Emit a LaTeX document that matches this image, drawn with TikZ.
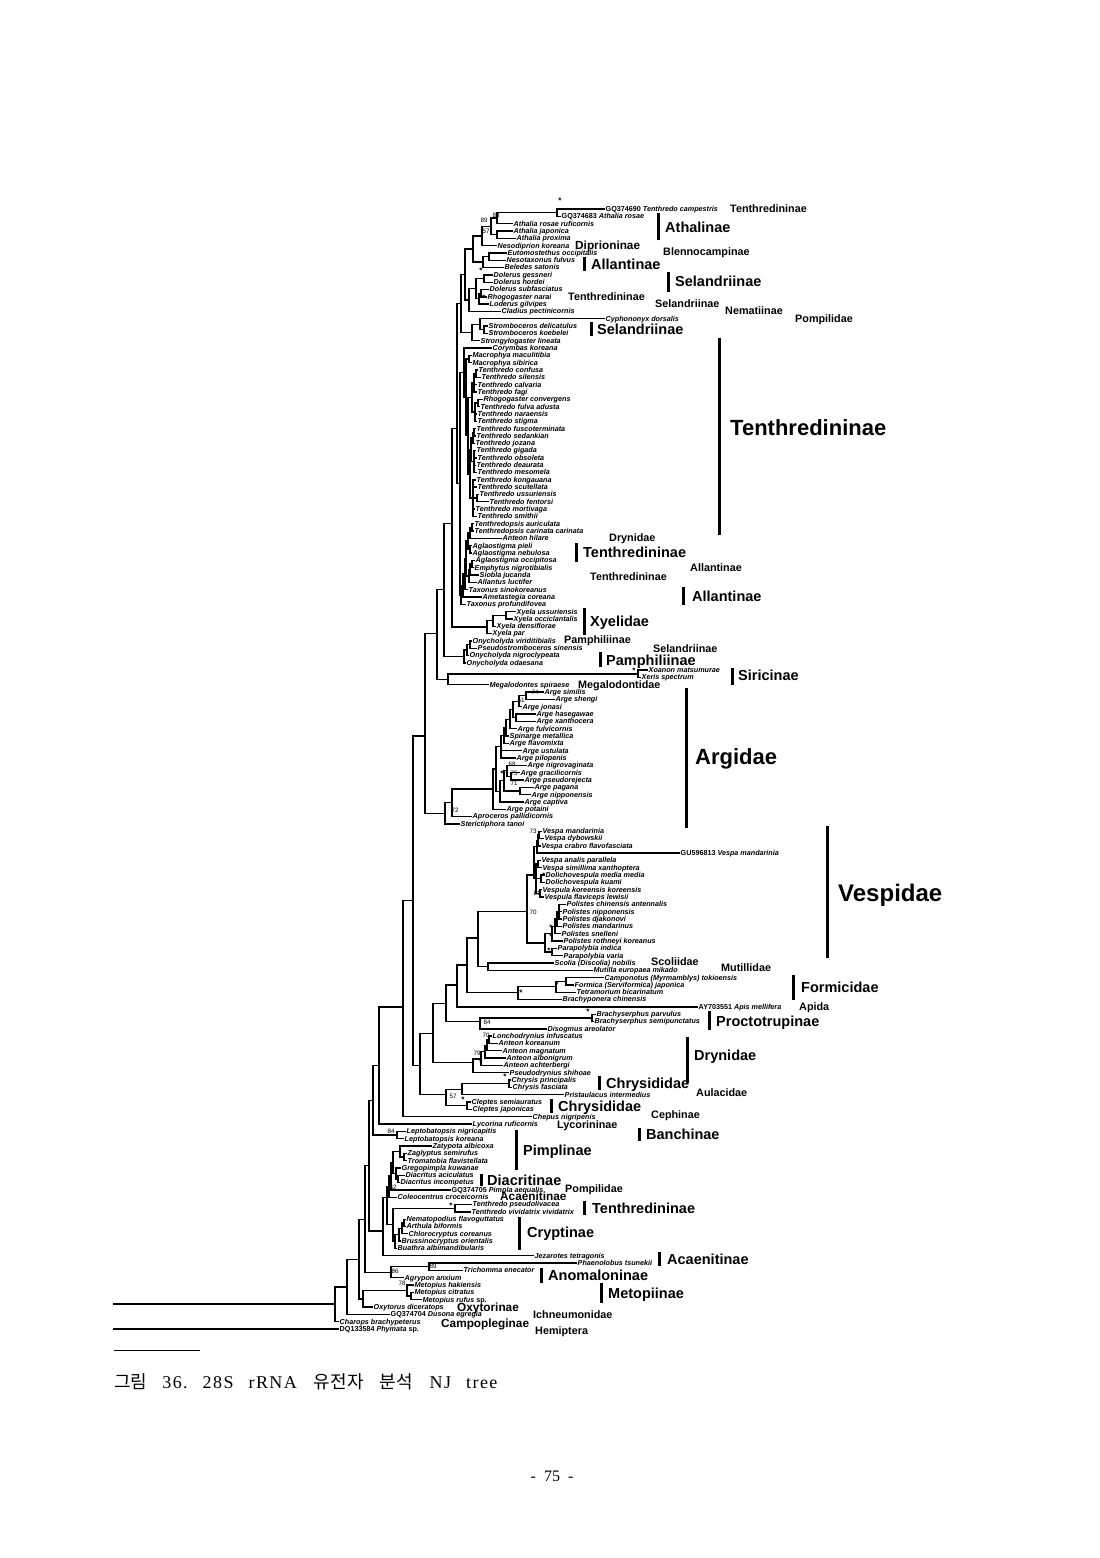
\documentclass[tikz,border=0pt]{standalone}
\usepackage{fontspec}
\setmainfont{Liberation Sans}
\newfontfamily\cjkfont{Noto Sans CJK KR}
\newfontfamily\serifl[LetterSpace=8]{Liberation Serif}
\newfontfamily\serifp{Liberation Serif}
\newcommand\yy[1]{209+7.32*(#1)}
\newcommand\leaf[3]{\coordinate (t#1) at (#2,{\yy{#1}}); \node[lf] (l#1) at (t#1) {#3};}
\newcommand\inn[3]{\coordinate (#1) at (#2,{\yy{#3}});}
\newcommand\kids[2]{\foreach \kk in {#2}{\draw[br] (#1) |- (\kk);}}
\newcommand\up[1]{{\upshape #1}}
\tikzset{
  br/.style={line width=1.35pt, line join=miter, line cap=rect},
  lf/.style={anchor=base west, inner sep=0pt, xshift=1.5pt, yshift=-2.4pt, font=\fontsize{7.2}{7}\selectfont\bfseries\itshape},
  sl/.style={anchor=base west, inner sep=0pt, yshift=-3.9pt, font=\fontsize{10.8}{11}\selectfont\bfseries},
  ml/.style={anchor=base west, inner sep=0pt, yshift=-4.2pt, font=\fontsize{11.8}{12}\selectfont\bfseries},
  bl/.style={anchor=base west, inner sep=0pt, yshift=-5.2pt, font=\fontsize{14.5}{15}\selectfont\bfseries},
  hl/.style={anchor=base west, inner sep=0pt, yshift=-7.9pt, font=\fontsize{22}{22}\selectfont\bfseries},
  vl/.style={anchor=base west, inner sep=0pt, yshift=-8.6pt, font=\fontsize{24}{24}\selectfont\bfseries},
  cbar/.style={line width=3pt},
  bs/.style={inner sep=0pt, font=\fontsize{6.3}{6}\selectfont},
  st/.style={inner sep=0pt, font=\fontsize{8}{8}\selectfont\bfseries, yshift=1.2pt}
}
\begin{document}
\begin{tikzpicture}[x=1pt,y=-1pt]
\useasboundingbox (0,0) rectangle (1100,1558);
% ---------------- leaves ----------------
\leaf{0}{604}{\up{GQ374690} Tenthredo campestris}
\leaf{1}{560}{\up{GQ374683} Athalia rosae}
\leaf{2}{512}{Athalia rosae ruficornis}
\leaf{3}{512}{Athalia japonica}
\leaf{4}{515}{Athalia proxima}
\leaf{5}{496}{Nesodiprion koreana}
\leaf{6}{506}{Eutomostethus occipitalis}
\leaf{7}{505}{Nesotaxonus fulvus}
\leaf{8}{503}{Beledes satonis}
\leaf{9}{492}{Dolerus gessneri}
\leaf{10}{492}{Dolerus hordei}
\leaf{11}{488}{Dolerus subfasciatus}
\leaf{12}{486}{Rhogogaster narai}
\leaf{13}{488}{Loderus gilvipes}
\leaf{14}{500}{Cladius pectinicornis}
\leaf{15}{604}{Cyphononyx dorsalis}
\leaf{16}{487}{Stromboceros delicatulus}
\leaf{17}{487}{Stromboceros koebelei}
\leaf{18}{479}{Strongylogaster lineata}
\leaf{19}{491}{Corymbas koreana}
\leaf{20}{471}{Macrophya maculitibia}
\leaf{21}{471}{Macrophya sibirica}
\leaf{22}{477}{Tenthredo confusa}
\leaf{23}{480}{Tenthredo silensis}
\leaf{24}{476}{Tenthredo calvaria}
\leaf{25}{476}{Tenthredo fagi}
\leaf{26}{482}{Rhogogaster convergens}
\leaf{27}{479}{Tenthredo fulva adusta}
\leaf{28}{476}{Tenthredo naraensis}
\leaf{29}{476}{Tenthredo stigma}
\leaf{30}{475}{Tenthredo fuscoterminata}
\leaf{31}{475}{Tenthredo sedankian}
\leaf{32}{474}{Tenthredo jozana}
\leaf{33}{475}{Tenthredo gigada}
\leaf{34}{476}{Tenthredo obsoleta}
\leaf{35}{475}{Tenthredo deaurata}
\leaf{36}{476}{Tenthredo mesomela}
\leaf{37}{475}{Tenthredo kongauana}
\leaf{38}{476}{Tenthredo scutellata}
\leaf{39}{478}{Tenthredo ussuriensis}
\leaf{40}{488}{Tenthredo fentorsi}
\leaf{41}{474}{Tenthredo mortivaga}
\leaf{42}{476}{Tenthredo smithii}
\leaf{43}{473}{Tenthredopsis auriculata}
\leaf{44}{473}{Tenthredopsis carinata carinata}
\leaf{45}{501}{Anteon hilare}
\leaf{46}{471}{Aglaostigma pieli}
\leaf{47}{471}{Aglaostigma nebulosa}
\leaf{48}{474}{Aglaostigma occipitosa}
\leaf{49}{473}{Emphytus nigrotibialis}
\leaf{50}{478}{Siobla jucanda}
\leaf{51}{476}{Allantus luctifer}
\leaf{52}{467}{Taxonus sinokoreanus}
\leaf{53}{481}{Ametastegia coreana}
\leaf{54}{465}{Taxonus profundifovea}
\leaf{55}{515}{Xyela ussuriensis}
\leaf{56}{512}{Xyela occiclantalis}
\leaf{57}{495}{Xyela densiflorae}
\leaf{58}{491}{Xyela par}
\leaf{59}{471}{Onycholyda viriditibialis}
\leaf{60}{476}{Pseudostromboceros sinensis}
\leaf{61}{468}{Onycholyda nigroclypeata}
\leaf{62}{465}{Onycholyda odaesana}
\leaf{63}{647}{Xoanon matsumurae}
\leaf{64}{640}{Xeris spectrum}
\leaf{65}{488}{Megalodontes spiraese}
\leaf{66}{543}{Arge similis}
\leaf{67}{554}{Arge shengi}
\leaf{68}{521}{Arge jonasi}
\leaf{69}{535}{Arge hasegawae}
\leaf{70}{535}{Arge xanthocera}
\leaf{71}{516}{Arge fulvicornis}
\leaf{72}{508}{Spinarge metallica}
\leaf{73}{508}{Arge flavomixta}
\leaf{74}{521}{Arge ustulata}
\leaf{75}{515}{Arge pilopenis}
\leaf{76}{526}{Arge nigrovaginata}
\leaf{77}{519}{Arge gracilicornis}
\leaf{78}{523}{Arge pseudorejecta}
\leaf{79}{533}{Arge pagana}
\leaf{80}{530}{Arge nipponensis}
\leaf{81}{523}{Arge captiva}
\leaf{82}{505}{Arge potaini}
\leaf{83}{471}{Aproceros pallidicornis}
\leaf{84}{459}{Sterictiphora tanoi}
\leaf{85}{541}{Vespa mandarinia}
\leaf{86}{543}{Vespa dybowskii}
\leaf{87}{540}{Vespa crabro flavofasciata}
\leaf{88}{679}{\up{GU596813} Vespa mandarinia}
\leaf{89}{540}{Vespa analis parallela}
\leaf{90}{541}{Vespa simillima xanthoptera}
\leaf{91}{544}{Dolichovespula media media}
\leaf{92}{544}{Dolichovespula kuami}
\leaf{93}{541}{Vespula koreensis koreensis}
\leaf{94}{543}{Vespula flaviceps lewisii}
\leaf{95}{565}{Polistes chinensis antennalis}
\leaf{96}{561}{Polistes nipponensis}
\leaf{97}{561}{Polistes djakonovi}
\leaf{98}{561}{Polistes mandarinus}
\leaf{99}{560}{Polistes snelleni}
\leaf{100}{562}{Polistes rothneyi koreanus}
\leaf{101}{556}{Parapolybia indica}
\leaf{102}{562}{Parapolybia varia}
\leaf{103}{553}{Scolia (Discolia) nobilis}
\leaf{104}{592}{Mutilla europaea mikado}
\leaf{105}{603}{Camponotus (Myrmamblys) tokioensis}
\leaf{106}{573}{Formica (Serviformica) japonica}
\leaf{107}{575}{Tetramorium bicarinatum}
\leaf{108}{561}{Brachyponera chinensis}
\leaf{109}{697}{\up{AY703551} Apis mellifera}
\leaf{110}{595}{Brachyserphus parvulus}
\leaf{111}{593}{Brachyserphus semipunctatus}
\leaf{112}{546}{Disogmus areolator}
\leaf{113}{491}{Lonchodrynius infuscatus}
\leaf{114}{497}{Anteon koreanum}
\leaf{115}{501}{Anteon magnatum}
\leaf{116}{505}{Anteon albonigrum}
\leaf{117}{502}{Anteon achterbergi}
\leaf{118}{508}{Pseudodrynius shihoae}
\leaf{119}{510}{Chrysis principalis}
\leaf{120}{511}{Chrysis fasciata}
\leaf{121}{563}{Pristaulacus intermedius}
\leaf{122}{470}{Cleptes semiauratus}
\leaf{123}{471}{Cleptes japonicas}
\leaf{124}{531}{Chepus nigripenis}
\leaf{125}{471}{Lycorina ruficornis}
\leaf{126}{405}{Leptobatopsis nigricapitis}
\leaf{127}{403}{Leptobatopsis koreana}
\leaf{128}{431}{Zatypota albicoxa}
\leaf{129}{406}{Zaglyptus semirufus}
\leaf{130}{406}{Tromatobia flavistellata}
\leaf{131}{400}{Gregopimpla kuwanae}
\leaf{132}{404}{Diacritus aciculatus}
\leaf{133}{399}{Diacritus incompetus}
\leaf{134}{450}{\up{GQ374705} Pimpla aequalis}
\leaf{135}{396}{Coleocentrus croceicornis}
\leaf{136}{471}{Tenthredo pseudolivacea}
\leaf{137}{470}{Tenthredo vividatrix vividatrix}
\leaf{138}{405}{Nematopodius flavoguttatus}
\leaf{139}{405}{Arthula biformis}
\leaf{140}{407}{Chlorocryptus coreanus}
\leaf{141}{400}{Brussinocryptus orientalis}
\leaf{142}{396}{Buathra albimandibularis}
\leaf{143}{533}{Jezarotes tetragonis}
\leaf{144}{576}{Phaenolobus tsunekii}
\leaf{145}{462}{Trichomma enecator}
\leaf{146}{403}{Agrypon anxium}
\leaf{147}{413}{Metopius hakiensis}
\leaf{148}{413}{Metopius citratus}
\leaf{149}{421}{Metopius rufus \up{sp.}}
\leaf{150}{372}{Oxytorus diceratops}
\leaf{151}{389}{\up{GQ374704} Dusona egregia}
\leaf{152}{338}{Charops brachypeterus}
\leaf{153}{338}{\up{DQ133584} Phymata \up{sp.}}
% ---------------- internal nodes ----------------
\inn{nStar}{557}{0.5}
\inn{n88}{497}{1.25}
\inn{n57a}{497}{3.5}
\inn{n89a}{491}{2.375}
\inn{nA1}{482}{3.69}
\inn{nE1}{489}{6.5}
\inn{nE2}{483}{7.25}
\inn{nA2}{473}{5.47}
\inn{nD1}{484}{9.5}
\inn{nD2}{481}{11.5}
\inn{nD3}{479}{12.25}
\inn{nD4}{476}{10.875}
\inn{nD5}{469}{12.44}
\inn{nT1}{465}{8.95}
\inn{nS1}{484}{16.5}
\inn{nS2}{480}{15.75}
\inn{nS3}{472}{16.875}
\inn{nT2}{461}{12.9}
\inn{nM}{469}{20.5}
\inn{nTa}{476}{22.5}
\inn{nTb}{474}{23.75}
\inn{nTc}{478}{26.5}
\inn{nTd}{475}{27.75}
\inn{nTe}{472}{25.75}
\inn{nTf}{474}{30.5}
\inn{nTg}{473}{31.25}
\inn{nTh}{474}{34.5}
\inn{nTi}{471}{32.875}
\inn{nTjb}{477}{39.5}
\inn{nTj}{473}{39.5}
\inn{nTk}{470}{36.19}
\inn{nTl}{468}{30.97}
\inn{nTm}{466}{25.73}
\inn{nTn}{464}{22.37}
\inn{nP1}{472}{43.5}
\inn{nP2}{470}{44.25}
\inn{nP3}{470}{46.5}
\inn{nP4}{468}{45.375}
\inn{nP5}{472}{48.5}
\inn{nP6}{470}{49.25}
\inn{nP7}{469}{50.125}
\inn{nP8}{466}{47.75}
\inn{nP9}{465}{49.875}
\inn{nP10}{463}{51.44}
\inn{nP11}{461}{52.72}
\inn{nTenA}{460}{37.5}
\inn{nTen}{457}{30}
\inn{nX1}{506}{55.5}
\inn{nX2}{493}{56.25}
\inn{nX3}{487}{57.1}
\inn{nO1}{470}{59.5}
\inn{nO2}{467}{60.25}
\inn{nO3}{464}{61.1}
\inn{nSi}{638}{63.5}
\inn{nMeg}{448}{64.25}
\inn{nB1}{452}{43}
\inn{nB2}{444}{52}
\inn{nB3}{437}{58}
\inn{nAr1}{526}{66.5}
\inn{nAr2}{519}{67.25}
\inn{nAr3}{516}{69.5}
\inn{nAr4}{513}{68.4}
\inn{nAr5}{510}{69.7}
\inn{nAr6}{506}{70.85}
\inn{nAr7}{504}{71.9}
\inn{nAr8}{501}{73.45}
\inn{nAr10}{511}{77.5}
\inn{nAr9}{507}{76.75}
\inn{nAr11}{520}{79.5}
\inn{nAr12}{504}{78.1}
\inn{nAr13}{500}{79.6}
\inn{nAr14}{496}{76.5}
\inn{nAr15}{493}{79.25}
\inn{nAr16}{452}{81.1}
\inn{nArg}{445}{82.6}
\inn{nB4}{425}{72}
\inn{nV1}{539}{85.5}
\inn{nV2}{538}{86.25}
\inn{nV3}{537}{87.1}
\inn{nV4}{538}{89.5}
\inn{nV5}{541}{91.5}
\inn{nV6}{540}{93.5}
\inn{nV7}{536}{91.5}
\inn{nV8}{534}{91}
\inn{nPo1}{559}{96}
\inn{nPo2}{557}{97}
\inn{nPo3}{555}{98}
\inn{nPo4}{552}{99}
\inn{nPa}{552}{101.5}
\inn{nPo5}{545}{100.25}
\inn{nSeventy}{527}{96}
\inn{nSc}{488}{103.5}
\inn{nVes}{478}{99.6}
\inn{nF1}{566}{105.5}
\inn{nF2}{556}{106.25}
\inn{nF3}{518}{107}
\inn{nAnt}{467}{103.3}
\inn{nApo}{457}{106}
\inn{nBr}{592}{110.5}
\inn{nEF}{480}{111}
\inn{nAcu}{446}{108.5}
\inn{nDr1}{489}{113.5}
\inn{nDr2}{487}{114.25}
\inn{nDr3}{485}{115.1}
\inn{nDr4}{481}{116.1}
\inn{nDr5}{473}{116.6}
\inn{nDr}{433}{112.6}
\inn{nCh}{509}{119.5}
\inn{nChB}{462}{120.25}
\inn{nCl}{467}{122.5}
\inn{nFS}{446}{121}
\inn{nChr}{420}{117}
\inn{nHym}{413}{94.5}
\inn{nHymB}{403}{109}
\inn{nL}{379}{117}
\inn{nLe}{397}{126.5}
\inn{nLB}{373}{121.75}
\inn{nPi1}{404}{129.5}
\inn{nPi2}{400}{128.75}
\inn{nDi}{398}{132.5}
\inn{nPi4}{396}{131.75}
\inn{nPi5}{393}{130.25}
\inn{nPi6}{391}{132.1}
\inn{nPi7}{389}{133.6}
\inn{nTv}{455}{136.5}
\inn{nCr1}{404}{138.5}
\inn{nCr2}{402}{139.25}
\inn{nCr3}{399}{140.1}
\inn{nCr4}{395}{141}
\inn{nCr5}{393}{138.75}
\inn{nIch}{387}{135}
\inn{nJ}{383}{139.6}
\inn{nLJ}{369}{130.7}
\inn{nEN}{429}{144.5}
\inn{nES}{391}{145.25}
\inn{nR5}{365}{138}
\inn{nMe2}{411}{148.5}
\inn{nMe}{407}{147.75}
\inn{nOx}{363}{148.9}
\inn{nR4}{359}{143.5}
\inn{nR3}{347}{147.25}
\inn{nR1}{335}{149.6}
\inn{rootA}{114}{149.6}
\inn{rootB}{114}{153}
% ---------------- branches ----------------
\kids{nStar}{t0,t1}
\kids{n88}{nStar,t2}
\kids{n57a}{t3,t4}
\kids{n89a}{n88,n57a}
\kids{nA1}{n89a,t5}
\kids{nE1}{t6,t7}
\kids{nE2}{nE1,t8}
\kids{nA2}{nA1,nE2}
\kids{nD1}{t9,t10}
\kids{nD2}{t11,t12}
\kids{nD3}{nD2,t13}
\kids{nD4}{nD1,nD3}
\kids{nD5}{nD4,t14}
\kids{nT1}{nA2,nD5}
\kids{nS1}{t16,t17}
\kids{nS2}{t15,nS1}
\kids{nS3}{nS2,t18}
\kids{nT2}{nT1,nS3}
\kids{nM}{t20,t21}
\kids{nTa}{t22,t23}
\kids{nTb}{nTa,t24,t25}
\kids{nTc}{t26,t27}
\kids{nTd}{nTc,t28,t29}
\kids{nTe}{nTb,nTd}
\kids{nTf}{t30,t31}
\kids{nTg}{nTf,t32}
\kids{nTh}{t33,t34,t35,t36}
\kids{nTi}{nTg,nTh}
\kids{nTjb}{t39,t40}
\kids{nTj}{t37,t38,nTjb,t41,t42}
\kids{nTk}{nTi,nTj}
\kids{nTl}{nTe,nTk}
\kids{nTm}{nM,nTl}
\kids{nTn}{t19,nTm}
\kids{nP1}{t43,t44}
\kids{nP2}{nP1,t45}
\kids{nP3}{t46,t47}
\kids{nP4}{nP2,nP3}
\kids{nP5}{t48,t49}
\kids{nP6}{nP5,t50}
\kids{nP7}{nP6,t51}
\kids{nP8}{nP4,nP7}
\kids{nP9}{nP8,t52}
\kids{nP10}{nP9,t53}
\kids{nP11}{nP10,t54}
\kids{nTenA}{nTn,nP11}
\kids{nTen}{nT2,nTenA}
\kids{nX1}{t55,t56}
\kids{nX2}{nX1,t57}
\kids{nX3}{nX2,t58}
\kids{nO1}{t59,t60}
\kids{nO2}{nO1,t61}
\kids{nO3}{nO2,t62}
\kids{nSi}{t63,t64}
\kids{nMeg}{nSi,t65}
\kids{nB1}{nTen,nX3}
\kids{nB2}{nB1,nO3}
\kids{nB3}{nB2,nMeg}
\kids{nAr1}{t66,t67}
\kids{nAr2}{nAr1,t68}
\kids{nAr3}{t69,t70}
\kids{nAr4}{nAr2,nAr3}
\kids{nAr5}{nAr4,t71}
\kids{nAr6}{nAr5,t72}
\kids{nAr7}{nAr6,t73}
\kids{nAr8}{nAr7,t74,t75}
\kids{nAr10}{t77,t78}
\kids{nAr9}{t76,nAr10}
\kids{nAr11}{t79,t80}
\kids{nAr12}{nAr9,nAr11}
\kids{nAr13}{nAr12,t81}
\kids{nAr14}{nAr8,nAr13}
\kids{nAr15}{nAr14,t82}
\kids{nAr16}{nAr15,t83}
\kids{nArg}{nAr16,t84}
\kids{nB4}{nB3,nArg}
\kids{nV1}{t85,t86}
\kids{nV2}{nV1,t87}
\kids{nV3}{nV2,t88}
\kids{nV4}{t89,t90}
\kids{nV5}{t91,t92}
\kids{nV6}{t93,t94}
\kids{nV7}{nV4,nV5,nV6}
\kids{nV8}{nV3,nV7}
\kids{nPo1}{t95,t96,t97}
\kids{nPo2}{nPo1,t98}
\kids{nPo3}{nPo2,t99}
\kids{nPo4}{nPo3,t100}
\kids{nPa}{t101,t102}
\kids{nPo5}{nPo4,nPa}
\kids{nSeventy}{nV8,nPo5}
\kids{nSc}{t103,t104}
\kids{nVes}{nSeventy,nSc}
\kids{nF1}{t105,t106}
\kids{nF2}{nF1,t107}
\kids{nF3}{nF2,t108}
\kids{nAnt}{nVes,nF3}
\kids{nApo}{nAnt,t109}
\kids{nBr}{t110,t111}
\kids{nEF}{nBr,t112}
\kids{nAcu}{nApo,nEF}
\kids{nDr1}{t113,t114}
\kids{nDr2}{nDr1,t115}
\kids{nDr3}{nDr2,t116}
\kids{nDr4}{nDr3,t117}
\kids{nDr5}{nDr4,t118}
\kids{nDr}{nAcu,nDr5}
\kids{nCh}{t119,t120}
\kids{nChB}{nCh,t121}
\kids{nCl}{t122,t123}
\kids{nFS}{nChB,nCl}
\kids{nChr}{nDr,nFS}
\kids{nHym}{nB4,nChr}
\kids{nHymB}{nHym,t124}
\kids{nL}{nHymB,t125}
\kids{nLe}{t126,t127}
\kids{nLB}{nL,nLe}
\kids{nPi1}{t129,t130}
\kids{nPi2}{t128,nPi1}
\kids{nDi}{t132,t133}
\kids{nPi4}{t131,nDi}
\kids{nPi5}{nPi2,nPi4}
\kids{nPi6}{nPi5,t134}
\kids{nPi7}{nPi6,t135}
\kids{nTv}{t136,t137}
\kids{nCr1}{t138,t139}
\kids{nCr2}{nCr1,t140}
\kids{nCr3}{nCr2,t141}
\kids{nCr4}{nCr3,t142}
\kids{nCr5}{nTv,nCr4}
\kids{nIch}{nPi7,nCr5}
\kids{nJ}{nIch,t143}
\kids{nLJ}{nLB,nJ}
\kids{nEN}{t144,t145}
\kids{nES}{nEN,t146}
\kids{nR5}{nLJ,nES}
\kids{nMe2}{t148,t149}
\kids{nMe}{t147,nMe2}
\kids{nOx}{nMe,t150}
\kids{nR4}{nR5,nOx}
\kids{nR3}{nR4,t151}
\kids{nR1}{nR3,t152}
\draw[br] (rootA) -- (nR1);
\draw[br] (rootB) -- (t153);
% ---------------- bootstrap values ----------------
\node[st] (b1) at (560,202) {*};
\node[bs] (b2) at (484,220) {89};
\node[bs] (b3) at (496,215) {88};
\node[bs] (b4) at (486,231) {57};
\node[st] (b5) at (481,272) {*};
\node[st] (b6) at (484,299) {*};
\node[st] (b7) at (634,672) {*};
\node[bs] (b8) at (535,692) {74};
\node[bs] (b9) at (521,700) {51};
\node[bs] (b10) at (512,764) {68};
\node[bs] (b11) at (514,773) {75};
\node[bs] (b12) at (514,783) {71};
\node[st] (b13) at (502,775) {*};
\node[bs] (b14) at (455,810) {72};
\node[bs] (b15) at (533,831) {73};
\node[st] (b16) at (544,877) {*};
\node[bs] (b17) at (537,893) {81};
\node[bs] (b18) at (533,912) {70};
\node[st] (b19) at (551,929) {*};
\node[st] (b20) at (551,938) {*};
\node[st] (b21) at (549,952) {*};
\node[st] (b22) at (557,986) {*};
\node[st] (b23) at (521,994) {*};
\node[st] (b24) at (588,1013) {*};
\node[bs] (b25) at (487,1022) {84};
\node[bs] (b26) at (486,1035) {70};
\node[bs] (b27) at (477,1053) {79};
\node[st] (b28) at (481,1064) {*};
\node[st] (b29) at (505,1078) {*};
\node[bs] (b30) at (453,1096) {57};
\node[st] (b31) at (463,1101) {*};
\node[bs] (b32) at (391,1131) {84};
\node[bs] (b33) at (393,1187) {62};
\node[st] (b34) at (451,1207) {*};
\node[bs] (b35) at (395,1271) {86};
\node[bs] (b36) at (433,1266) {89};
\node[bs] (b37) at (402,1283) {78};
% ---------------- clade labels ----------------
\node[sl] (s1) at (730,209) {Tenthredininae};
\node[sl] (s2) at (663,252) {Blennocampinae};
\node[sl] (s3) at (568,297) {Tenthredininae};
\node[sl] (s4) at (655,304) {Selandriinae};
\node[sl] (s5) at (725,311) {Nematiinae};
\node[sl] (s6) at (795,319) {Pompilidae};
\node[sl] (s7) at (609,538) {Drynidae};
\node[sl] (s8) at (690,568) {Allantinae};
\node[sl] (s9) at (590,577) {Tenthredininae};
\node[sl] (s10) at (564,640) {Pamphiliinae};
\node[sl] (s11) at (653,649) {Selandriinae};
\node[sl] (s12) at (578,685) {Megalodontidae};
\node[sl] (s13) at (651,962) {Scoliidae};
\node[sl] (s14) at (721,968) {Mutillidae};
\node[sl] (s15) at (799,1007) {Apida};
\node[sl] (s16) at (696,1093) {Aulacidae};
\node[sl] (s17) at (651,1115) {Cephinae};
\node[sl] (s18) at (557,1125) {Lycorininae};
\node[sl] (s19) at (565,1189) {Pompilidae};
\node[sl] (s20) at (533,1315) {Ichneumonidae};
\node[sl] (s21) at (535,1331) {Hemiptera};
\node[ml] (m1) at (575,245) {Diprioninae};
\node[ml] (m2) at (500,1196) {Acaenitinae};
\node[ml] (m3) at (457,1307) {Oxytorinae};
\node[ml] (m4) at (441,1323) {Campopleginae};
% big labels with bars
\draw[cbar] (658,213) -- (658,240); \node[bl] (g1) at (665,227) {Athalinae};
\draw[cbar] (584,257) -- (584,271); \node[bl] (g2) at (591,264) {Allantinae};
\draw[cbar] (668,272) -- (668,292); \node[bl] (g3) at (675,281) {Selandriinae};
\draw[cbar] (591,322) -- (591,336); \node[bl] (g4) at (597,329) {Selandriinae};
\draw[cbar] (576,543) -- (576,562); \node[bl] (g5) at (583,552) {Tenthredininae};
\draw[cbar] (683,587) -- (683,605); \node[bl] (g6) at (692,596) {Allantinae};
\draw[cbar] (584,608) -- (584,635); \node[bl] (g7) at (590,621) {Xyelidae};
\draw[cbar] (600,652) -- (600,667); \node[bl] (g8) at (606,660) {Pamphiliinae};
\draw[cbar] (732,668) -- (732,685); \node[bl] (g9) at (738,675) {Siricinae};
\draw[cbar] (793,975) -- (793,1000); \node[bl] (g10) at (801,987) {Formicidae};
\draw[cbar] (709,1011) -- (709,1030); \node[bl] (g11) at (716,1021) {Proctotrupinae};
\draw[cbar] (687,1037) -- (687,1083); \node[bl] (g12) at (694,1055) {Drynidae};
\draw[cbar] (599,1076) -- (599,1090); \node[bl] (g13) at (606,1083) {Chrysididae};
\draw[cbar] (551,1099) -- (551,1113); \node[bl] (g14) at (558,1106) {Chrysididae};
\draw[cbar] (639,1128) -- (639,1141); \node[bl] (g15) at (646,1134) {Banchinae};
\draw[cbar] (516,1130) -- (516,1170); \node[bl] (g16) at (523,1150) {Pimplinae};
\draw[cbar] (481,1174) -- (481,1186); \node[bl] (g17) at (487,1180) {Diacritinae};
\draw[cbar] (584,1201) -- (584,1215); \node[bl] (g18) at (592,1208) {Tenthredininae};
\draw[cbar] (519,1217) -- (519,1250); \node[bl] (g19) at (527,1232) {Cryptinae};
\draw[cbar] (659,1252) -- (659,1266); \node[bl] (g20) at (667,1259) {Acaenitinae};
\draw[cbar] (541,1268) -- (541,1283); \node[bl] (g21) at (548,1275) {Anomaloninae};
\draw[cbar] (601,1283) -- (601,1303); \node[bl] (g22) at (608,1293) {Metopiinae};
\draw[cbar] (719,338) -- (719,535); \node[hl] (h1) at (730,428) {Tenthredininae};
\draw[cbar] (686,688) -- (686,828); \node[hl] (h2) at (695,757) {Argidae};
\draw[cbar] (827,826) -- (827,958); \node[vl] (h3) at (838,893) {Vespidae};
% ---------------- caption and page ----------------
\coordinate (r1) at (114,1350); \coordinate (r2) at (200,1350);
\draw[line width=0.6pt] (r1) -- (r2);
\node[anchor=base west, inner sep=0pt, font=\fontsize{18}{18}\selectfont] (cap) at (114,1388)
  {{\cjkfont 그림}\hspace{15pt}{\serifl 36.\hspace{15pt}28S\hspace{15pt}rRNA}\hspace{17pt}{\cjkfont 유전자\hspace{16pt}분석}\hspace{17pt}{\serifl NJ\hspace{15pt}tree}};
\node[anchor=base, inner sep=0pt, font=\fontsize{16}{16}\selectfont\serifp] (pg) at (552,1481) {-\hspace{8pt}75\hspace{8pt}-};
\end{tikzpicture}
\end{document}
